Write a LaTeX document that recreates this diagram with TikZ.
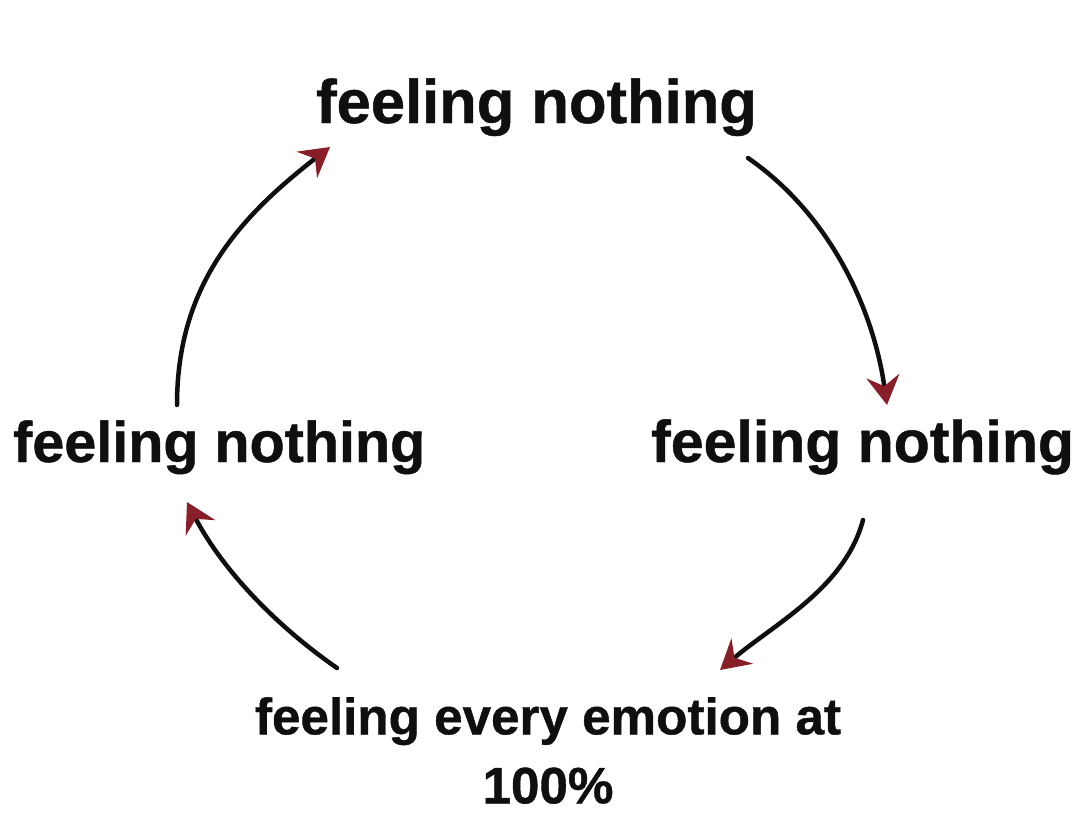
\documentclass[tikz,border=0pt]{standalone}
\usepackage{fontspec}
\setmainfont{Liberation Sans}[BoldFeatures={FakeBold=0.8}]
\usetikzlibrary{arrows.meta}
\definecolor{tipred}{RGB}{135,30,40}
\definecolor{inkblack}{RGB}{15,15,15}
\tikzset{
  lbl/.style={inner sep=0pt, anchor=base, text=inkblack, font=\bfseries},
  cyclearrow/.style={draw=inkblack, line width=4.5pt, line cap=round,
    -{Stealth[length=29pt, width=33pt, inset=10pt, color=tipred, line cap=butt]}}
}
\begin{document}
\begin{tikzpicture}[x=1pt, y=-1pt]
\useasboundingbox[fill=white] (0,0) rectangle (1079,827);
% labels
\node[lbl, font=\bfseries\fontsize{61.5}{70}\selectfont] (top) at (536.5,123) {feeling nothing};
\node[lbl, font=\bfseries\fontsize{57.5}{66}\selectfont, anchor=base west] (left) at (13,462) {feeling nothing};
\node[lbl, font=\bfseries\fontsize{59}{68}\selectfont, anchor=base west] (right) at (651,462) {feeling nothing};
\node[lbl, font=\bfseries\fontsize{51.2}{69}\selectfont, align=center, anchor=north] (bottom) at (548,697) {feeling every emotion at\\100\%};
% arrow end points
\coordinate (a1s) at (177,405);
\coordinate (a1e) at (330,147);
\coordinate (a2s) at (748,158);
\coordinate (a2e) at (887,405);
\coordinate (a3s) at (863,520);
\coordinate (a3e) at (720,670);
\coordinate (a4s) at (337,668);
\coordinate (a4e) at (187,502);
% arrows
\draw[cyclearrow] (a1s) .. controls (177,287) and (237,219) .. (a1e);
\draw[cyclearrow] (a2s) .. controls (829,214) and (873,307) .. (a2e);
\draw[cyclearrow] (a3s) .. controls (845,588) and (774,624) .. (a3e);
\draw[cyclearrow] (a4s) .. controls (275,625) and (222,569) .. (a4e);
\end{tikzpicture}
\end{document}
